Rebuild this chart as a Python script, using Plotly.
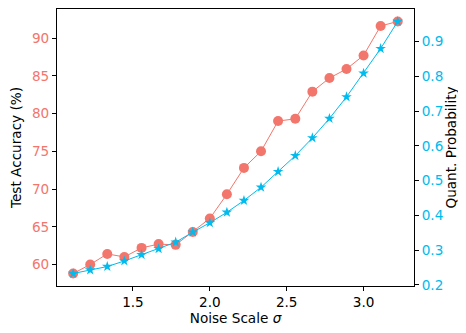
import plotly.graph_objects as go

# noise scale sigma (x)
noise_scale = [1.111, 1.222, 1.333, 1.444, 1.556, 1.667, 1.778, 1.889, 2.0, 2.111,
               2.222, 2.333, 2.444, 2.556, 2.667, 2.778, 2.889, 3.0, 3.111, 3.222]

# test accuracy (%), left axis
test_acc = [58.8, 60.0, 61.4, 61.0, 62.2, 62.7, 62.6, 64.3, 66.1, 69.3,
            72.8, 75.0, 79.0, 79.3, 82.9, 84.7, 85.9, 87.7, 91.6, 92.2]

# quantization probability, right axis
quant_prob = [0.233, 0.243, 0.253, 0.269, 0.287, 0.304, 0.323, 0.352, 0.379, 0.409,
              0.443, 0.481, 0.526, 0.572, 0.623, 0.679, 0.741, 0.809, 0.880, 0.958]

RED = "#F3766C"
BLUE = "#00BBEE"
FONT = "DejaVu Sans"
FS = 13.6

fig = go.Figure()

fig.add_trace(go.Scatter(
    x=noise_scale, y=test_acc,
    mode="lines+markers",
    line=dict(color=RED, width=1),
    marker=dict(color=RED, size=10, symbol="circle"),
    yaxis="y",
    showlegend=False,
))

fig.add_trace(go.Scatter(
    x=noise_scale, y=quant_prob,
    mode="lines+markers",
    line=dict(color=BLUE, width=1),
    marker=dict(color=BLUE, size=8, symbol="star"),
    yaxis="y2",
    showlegend=False,
))

axis_common = dict(
    showgrid=False, zeroline=False, automargin=False,
    showline=True, linecolor="black", linewidth=1,
    ticks="outside", ticklen=4, tickwidth=1, tickcolor="black",
)

# the page body adds an 8px offset, so the figure is 8px smaller than the window
fig.update_layout(
    width=458, height=325,
    margin=dict(l=49, r=52, t=1, b=47),
    plot_bgcolor="white",
    paper_bgcolor="white",
    font=dict(family=FONT, size=FS, color="black"),
    xaxis=dict(
        **axis_common,
        mirror=True,
        range=[1.006, 3.328],
        tickvals=[1.5, 2.0, 2.5, 3.0],
        ticktext=["1.5", "2.0", "2.5", "3.0"],
        tickfont=dict(size=FS),
        title=dict(text="Noise Scale <i>σ</i>", standoff=0, font=dict(size=FS)),
    ),
    yaxis=dict(
        **axis_common,
        range=[57.15, 93.85],
        tickvals=[60, 65, 70, 75, 80, 85, 90],
        tickfont=dict(size=FS, color=RED),
        title=dict(text="Test Accuracy (%)", standoff=8, font=dict(size=FS)),
    ),
    yaxis2=dict(
        **axis_common,
        overlaying="y",
        side="right",
        range=[0.197, 0.994],
        tickvals=[0.2, 0.3, 0.4, 0.5, 0.6, 0.7, 0.8, 0.9],
        ticktext=["0.2", "0.3", "0.4", "0.5", "0.6", "0.7", "0.8", "0.9"],
        tickfont=dict(size=FS, color=BLUE),
        title=dict(text="Quant. Probability", standoff=0, font=dict(size=FS)),
    ),
)

fig.write_html("out.html")
